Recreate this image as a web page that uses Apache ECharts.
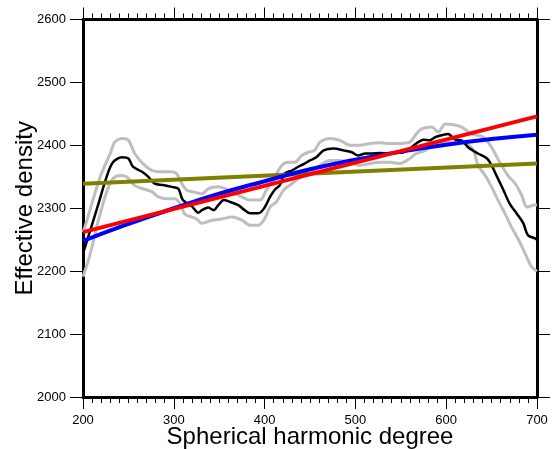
<!DOCTYPE html>
<html>
<head>
<meta charset="utf-8">
<script src="https://cdn.jsdelivr.net/npm/echarts@6/dist/echarts.min.js"></script>
<style>
  html, body { margin: 0; padding: 0; background: #fff; }
  #chart { width: 552px; height: 449px; }
</style>
</head>
<body>
<div id="chart"></div>
<script>
// measured effective density (black) and its bounds (gray)
var dataDeg = [200, 208, 217, 226, 233, 243, 250, 255, 265, 272, 279, 288, 298, 305, 310, 320, 327, 331, 338, 344, 349, 355, 362, 371, 378, 384, 393, 399, 406, 411, 417, 422, 430, 437, 444, 450, 457, 465, 476, 487, 496, 503, 511, 518, 527, 536, 545, 553, 560, 567, 575, 582, 588, 595, 602, 610, 617, 624, 635, 645, 650, 656, 663, 670, 678, 685, 690, 698, 700];
var dataVal = [2228, 2265, 2307, 2350, 2373, 2381, 2379, 2366, 2358, 2350, 2339, 2337, 2334, 2331, 2313, 2303, 2293, 2297, 2301, 2297, 2305, 2313, 2310, 2305, 2297, 2292, 2292, 2299, 2318, 2329, 2337, 2355, 2360, 2366, 2371, 2376, 2381, 2392, 2395, 2392, 2389, 2384, 2387, 2387, 2388, 2387, 2388, 2389, 2395, 2403, 2409, 2408, 2413, 2416, 2418, 2409, 2408, 2397, 2387, 2379, 2368, 2350, 2329, 2307, 2291, 2276, 2257, 2252, 2250];

var upperDeg = [200, 202, 219, 230, 235, 243, 250, 257, 266, 276, 285, 296, 303, 309, 314, 321, 331, 338, 349, 360, 371, 384, 395, 402, 410, 419, 426, 433, 441, 448, 455, 461, 472, 483, 494, 505, 516, 527, 538, 549, 560, 567, 573, 584, 591, 599, 606, 617, 628, 641, 650, 659, 668, 676, 683, 689, 698, 700];
var upperVal = [2262, 2270, 2350, 2387, 2405, 2411, 2408, 2387, 2371, 2360, 2358, 2358, 2355, 2339, 2329, 2326, 2323, 2331, 2334, 2329, 2321, 2313, 2313, 2329, 2347, 2368, 2373, 2373, 2384, 2389, 2392, 2405, 2411, 2408, 2400, 2400, 2403, 2404, 2403, 2403, 2405, 2418, 2426, 2429, 2421, 2434, 2433, 2429, 2418, 2413, 2397, 2373, 2352, 2339, 2321, 2302, 2305, 2305];

var lowerDeg = [200, 208, 217, 226, 233, 241, 248, 257, 266, 276, 283, 292, 301, 307, 312, 320, 325, 331, 342, 353, 364, 375, 384, 393, 400, 406, 413, 421, 430, 441, 450, 461, 472, 483, 494, 505, 516, 527, 538, 549, 560, 567, 577, 588, 599, 610, 621, 630, 635, 643, 650, 657, 665, 672, 680, 687, 694, 700];
var lowerVal = [2191, 2228, 2281, 2326, 2347, 2352, 2350, 2336, 2331, 2326, 2318, 2315, 2315, 2307, 2291, 2286, 2283, 2276, 2281, 2283, 2286, 2281, 2273, 2273, 2283, 2302, 2310, 2329, 2339, 2350, 2355, 2368, 2376, 2376, 2373, 2368, 2371, 2373, 2373, 2371, 2379, 2387, 2392, 2403, 2405, 2405, 2403, 2392, 2368, 2352, 2334, 2313, 2291, 2270, 2249, 2228, 2207, 2200];

// fitted models
var blueDeg = [200, 250, 300, 350, 400, 450, 500, 550, 600, 650, 700];
var blueVal = [2248, 2275, 2300, 2323, 2343, 2362, 2377, 2390, 2401, 2410, 2417];
var redDeg = [200, 700];
var redVal = [2262, 2446];
var oliveDeg = [200, 700];
var oliveVal = [2339, 2371];

var xTicks = [200, 300, 400, 500, 600, 700];
var yTicks = [2000, 2100, 2200, 2300, 2400, 2500, 2600];

function pairs(xs, ys) {
    var out = [];
    for (var i = 0; i < xs.length; i++) out.push([xs[i], ys[i]]);
    return out;
}

var font = '"Liberation Sans", Arial, sans-serif';
var chart = echarts.init(document.getElementById('chart'), null, { renderer: 'canvas' });

function xAxisDef(pos, showLabel) {
    return {
        type: 'value',
        position: pos,
        min: xTicks[0],
        max: xTicks[xTicks.length - 1],
        interval: 100,
        name: showLabel ? 'Spherical harmonic degree' : '',
        nameLocation: 'middle',
        nameGap: 28,
        nameMoveOverlap: false,
        nameTextStyle: { fontFamily: font, fontSize: 24, color: '#000' },
        axisLine: { show: true, onZero: false, lineStyle: { color: '#000', width: 3 } },
        axisTick: { show: true, inside: false, length: 12, lineStyle: { color: '#000', width: 1 } },
        minorTick: { show: true, splitNumber: 10, length: 6, lineStyle: { color: '#000', width: 1 } },
        axisLabel: {
            show: showLabel, margin: 17, fontFamily: font, fontSize: 13, color: '#000',
            formatter: function (v) { return String(v); }
        },
        splitLine: { show: false }
    };
}

function yAxisDef(pos, showLabel) {
    return {
        type: 'value',
        position: pos,
        min: yTicks[0],
        max: yTicks[yTicks.length - 1],
        interval: 100,
        name: showLabel ? 'Effective density' : '',
        nameLocation: 'middle',
        nameGap: 46,
        nameMoveOverlap: false,
        nameTextStyle: { fontFamily: font, fontSize: 24, color: '#000' },
        axisLine: { show: true, onZero: false, lineStyle: { color: '#000', width: 3 } },
        axisTick: { show: true, inside: false, length: 13, lineStyle: { color: '#000', width: 1 } },
        axisLabel: {
            show: showLabel, margin: 17, fontFamily: font, fontSize: 13, color: '#000',
            formatter: function (v) { return String(v); }
        },
        splitLine: { show: false }
    };
}

function lineSeries(xs, ys, color, width, smooth) {
    return {
        type: 'line',
        data: pairs(xs, ys),
        xAxisIndex: 0,
        yAxisIndex: 0,
        showSymbol: false,
        symbol: 'none',
        smooth: smooth,
        lineStyle: { color: color, width: width },
        silent: true,
        animation: false
    };
}

chart.setOption({
    backgroundColor: '#fff',
    animation: false,
    grid: { left: 83, right: 15, top: 19.5, bottom: 52, containLabel: false, outerBoundsMode: 'none' },
    xAxis: [xAxisDef('bottom', true), xAxisDef('top', false)],
    yAxis: [yAxisDef('left', true), yAxisDef('right', false)],
    series: [
        lineSeries(upperDeg, upperVal, '#bebebe', 3, 0.3),
        lineSeries(lowerDeg, lowerVal, '#bebebe', 3, 0.3),
        lineSeries(dataDeg, dataVal, '#000000', 2.5, 0.3),
        lineSeries(oliveDeg, oliveVal, '#808000', 4, false),
        lineSeries(blueDeg, blueVal, '#0000ff', 4, true),
        lineSeries(redDeg, redVal, '#ff0000', 4, false)
    ]
});
</script>
</body>
</html>
